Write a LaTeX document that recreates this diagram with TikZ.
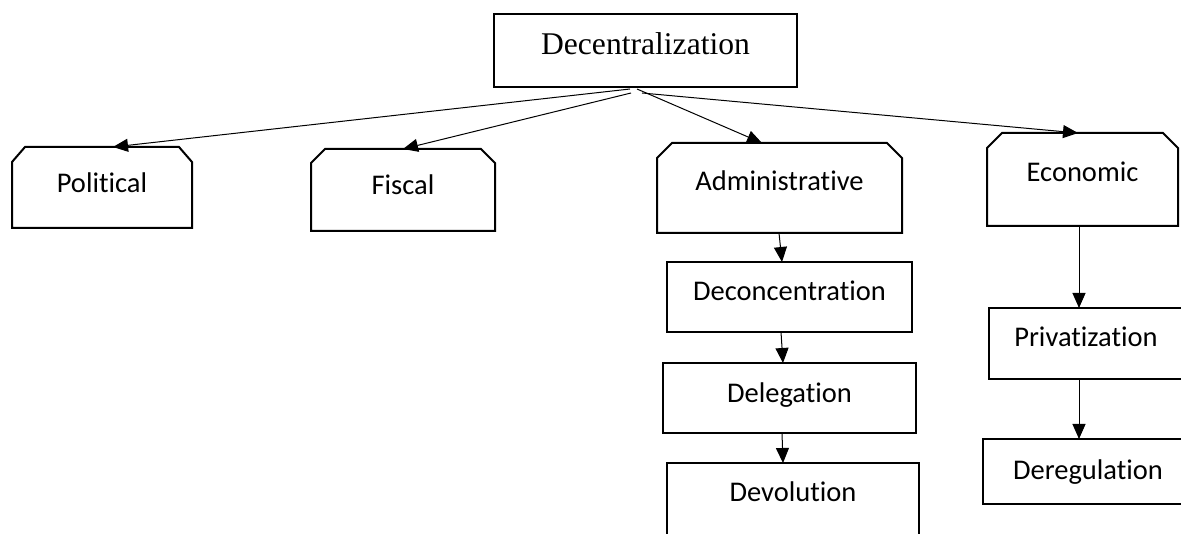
\documentclass[tikz,border=0pt]{standalone}
\usepackage{fontspec}
\setmainfont{Liberation Serif}
\newfontfamily\boxfont[Ligatures=NoCommon]{Carlito}
\usetikzlibrary{arrows.meta,calc}

\tikzset{
  box/.style={draw, line width=2pt, line join=miter, inner sep=0pt, outer sep=0pt,
    font=\boxfont\fontsize{28.5}{34}\selectfont},
  tabbox/.style={box, draw=none},
  tabline/.style={line width=2pt, line join=miter},
  arr/.style={line width=1pt, -{Triangle[length=15pt,width=13pt]}},
}

\begin{document}
\begin{tikzpicture}[x=1pt, y=-1pt]
\useasboundingbox (0,0) rectangle (1181,534);
\clip (0,0) rectangle (1181,534);

% root
\node[box, font=\fontsize{31.6}{38}\selectfont, minimum width=303pt, minimum height=73pt,
      text height=41pt, text depth=32pt] (dec) at (645.5,50.5) {Decentralization};

% the four kinds (tab-shaped boxes)
\node[tabbox, minimum width=180pt, minimum height=81pt, text height=46pt, text depth=35pt]
  (pol) at (102,187.5) {Political};
\node[tabbox, minimum width=184pt, minimum height=82pt, text height=46pt, text depth=36pt]
  (fis) at (403,190) {Fiscal};
\node[tabbox, minimum width=245pt, minimum height=90pt, text height=48pt, text depth=42pt]
  (adm) at (779.5,188) {Administrative};
\node[tabbox, minimum width=191pt, minimum height=93pt, text height=49pt, text depth=44pt]
  (eco) at (1082.5,179.5) {Economic};

\foreach \n/\cx/\cy in {pol/13/15, fis/14/14, adm/15/15, eco/15/15}{
  \draw[tabline] (\n.south west) -- ($(\n.north west)+(0,\cy)$) -- ($(\n.north west)+(\cx,0)$)
    -- ($(\n.north east)+(-\cx,0)$) -- ($(\n.north east)+(0,\cy)$) -- (\n.south east) -- cycle;
}

% administrative forms
\node[box, minimum width=245pt, minimum height=70pt, text height=39pt, text depth=31pt]
  (dcn) at (789.5,297) {Deconcentration};
\node[box, minimum width=253pt, minimum height=70pt, text height=40pt, text depth=30pt]
  (dlg) at (789.5,398) {Delegation};
\node[box, minimum width=252pt, minimum height=100pt, text height=38pt, text depth=62pt]
  (dvl) at (793,513) {Devolution};

% economic forms
\node[box, minimum width=194pt, minimum height=71pt, text height=39pt, text depth=32pt]
  (prv) at (1086,343.5) {Privatization};
\node[box, minimum width=210pt, minimum height=65pt, text height=40pt, text depth=25pt]
  (drg) at (1088,471.5) {Deregulation};

% connectors from the root
\coordinate (s1) at ($(dec.south)+(-15.5,2)$);
\coordinate (s2) at ($(dec.south)+(-14.5,6)$);
\coordinate (s3) at ($(dec.south)+(-8.5,2)$);
\coordinate (s4) at ($(dec.south)+(-3.5,6)$);
\draw[arr] (s1) -- ($(pol.north)+(11,0)$);
\draw[arr] (s2) -- (fis.north);
\draw[arr] (s3) -- ($(adm.north)+(-17.5,0)$);
\draw[arr] (s4) -- ($(eco.north)+(-4.5,0)$);

% chains below
\draw[arr] ($(adm.south)+(-0.5,0)$) -- ($(dcn.north)+(-7.5,0)$);
\draw[arr] ($(dcn.south)+(-8.5,0)$) -- ($(dlg.north)+(-6.5,0)$);
\draw[arr] ($(dlg.south)+(-7.5,0)$) -- ($(dvl.north)+(-10,0)$);
\draw[arr] ($(eco.south)+(-3.5,0)$) -- ($(prv.north)+(-7,0)$);
\draw[arr] ($(prv.south)+(-7,0)$) -- ($(drg.north)+(-9,0)$);
\end{tikzpicture}
\end{document}
